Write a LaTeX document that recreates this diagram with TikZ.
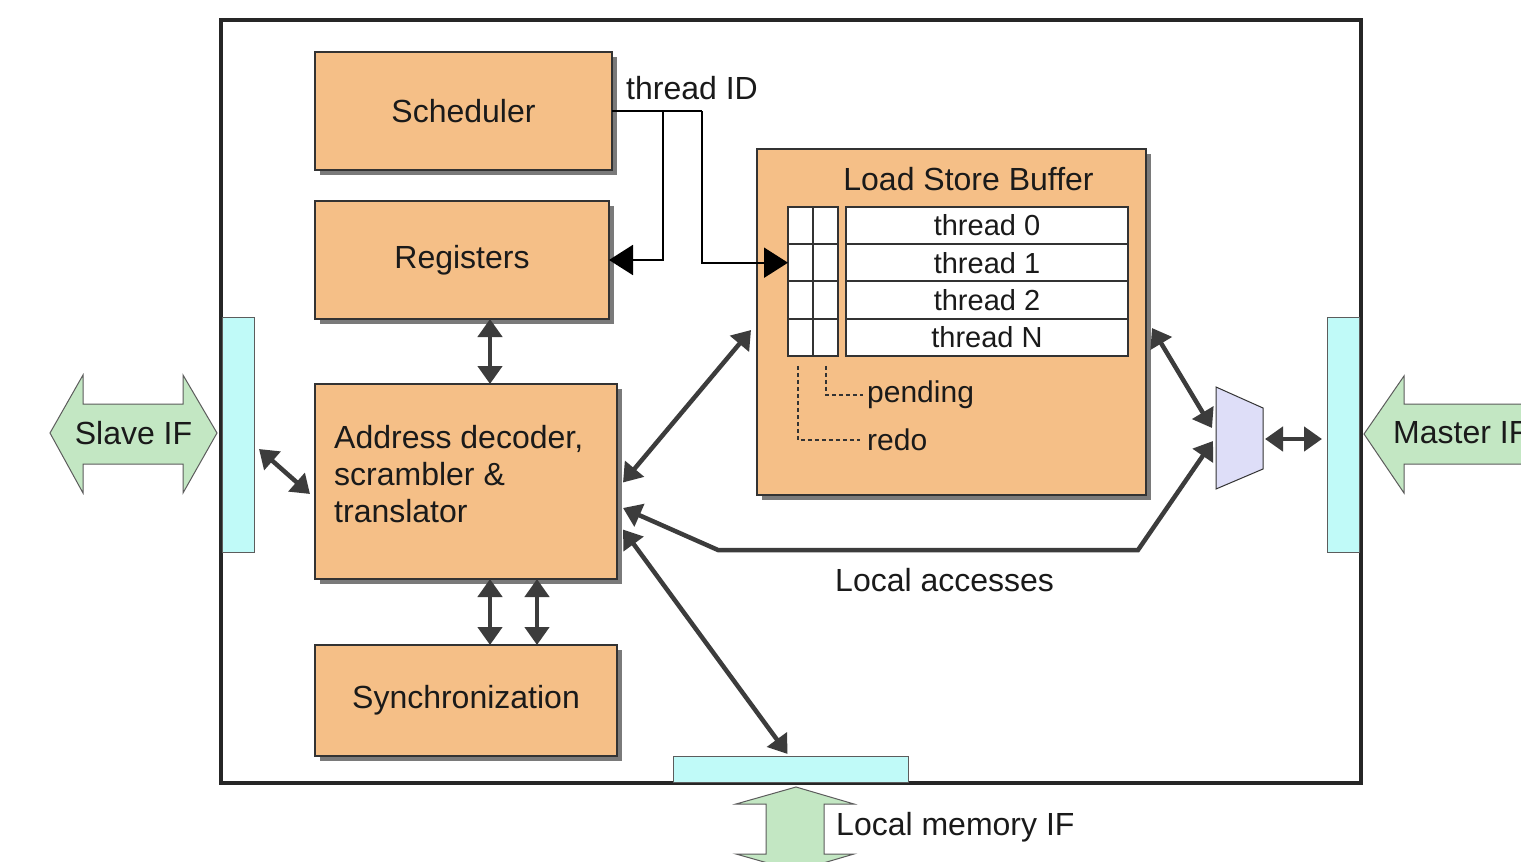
\documentclass[tikz,border=0pt]{standalone}
\usepackage{fontspec}
\setmainfont{Liberation Sans}
\usetikzlibrary{arrows.meta,calc,shadows}
\definecolor{boxfill}{HTML}{F5BF87}
\definecolor{cyanfill}{HTML}{C0FAF8}
\definecolor{greenfill}{HTML}{C3E7C3}
\definecolor{muxfill}{HTML}{DEDEF8}
\definecolor{arrowgray}{HTML}{3C3C3C}
\definecolor{shadowgray}{HTML}{7A7A7A}
\definecolor{edgec}{HTML}{333333}
\definecolor{txt}{HTML}{1A1A1A}
\begin{document}
\begin{tikzpicture}[x=1pt,y=-1pt,
  bigfont/.style={font=\fontsize{32}{37}\selectfont},
  blk/.style={draw=edgec, line width=1.2pt, fill=boxfill, inner sep=0pt, outer sep=0pt,
    drop shadow={shadow xshift=5pt, shadow yshift=-5pt, fill=shadowgray, opacity=1},
    bigfont, text=txt},
  lbl/.style={bigfont, inner sep=0pt, text=txt},
  smlbl/.style={font=\fontsize{30}{35}\selectfont, inner sep=0pt, text=txt},
  cell/.style={draw=edgec, line width=2pt, fill=white, minimum height=37.3, inner sep=0pt, outer sep=0pt,
    font=\fontsize{29}{34}\selectfont, text=txt},
  bar/.style={draw=edgec!80, line width=1pt, fill=cyanfill, inner sep=0pt, outer sep=0pt},
  bigarrow/.style={draw=edgec!80, line width=1pt, fill=greenfill},
  garrow/.style={draw=arrowgray, line width=4.5pt,
    {Triangle[width=24pt,length=18pt]}-{Triangle[width=24pt,length=18pt]}},
  tid/.style={draw=black, line width=2pt},
  tidtip/.style={-{Triangle[width=30pt,length=24pt]}},
  dots/.style={draw=edgec, line width=2.3pt, dash pattern=on 4pt off 3pt}
]
\useasboundingbox (0,0) rectangle (1521,862);
\fill[white] (0,0) rectangle (1521,862);

% outer frame
\draw[draw=black!85, line width=3.5pt] (221,20) rectangle (1361,783);

% interface bars
\node[bar, minimum width=32, minimum height=235] (sbar) at (238,434.5) {};
\node[bar, minimum width=32, minimum height=235] (mbar) at (1343,434.5) {};
\node[bar, minimum width=235, minimum height=26] (lbar) at (790.5,769) {};

% blocks
\node[blk, minimum width=297, minimum height=118] (sched) at (463.5,111) {Scheduler};
\node[blk, minimum width=294, minimum height=118] (reg) at (462,260) {Registers};
\node[blk, minimum width=302, minimum height=195] (addr) at (466,481.5) {};
\node[lbl, align=left, anchor=north west] (addrtxt) at ($(addr.north west)+(19,41)$)
  {Address decoder,\\scrambler \&\\translator};
\node[blk, minimum width=302, minimum height=111] (sync) at (466,700.5) {Synchronization};
\node[blk, minimum width=389, minimum height=346] (lsb) at (951.5,322) {};
\node[lbl, anchor=base] (lsbtxt) at (968.5,190) {Load Store Buffer};

% LSB table
\foreach \i/\yc/\t in {1/225.4/thread 0,2/262.7/thread 1,3/300/thread 2,4/337.3/thread N}{
  \node[cell, minimum width=25] (a\i) at (800.5,\yc) {};
  \node[cell, minimum width=25] (b\i) at (825.5,\yc) {};
  \node[cell, minimum width=282] (t\i) at (987,\yc) {\t};
}
\node[smlbl, anchor=west] (pend) at (867,395) {pending};
\node[smlbl, anchor=west] (redo) at (867,440) {redo};
\draw[dots, shorten >=4pt] ($(b4.south)+(0.5,10)$) |- (pend.west);
\draw[dots, shorten >=7pt] ($(a4.south)+(-2.5,10)$) |- (redo.west);

% mux
\node[minimum width=47, minimum height=102, inner sep=0pt, outer sep=0pt] (mux) at (1239.5,438) {};
\draw[draw=edgec, line width=1pt, fill=muxfill] (mux.north west) -- ($(mux.north east)+(0,21)$)
  -- ($(mux.south east)+(0,-20)$) -- (mux.south west) -- cycle;

% big interface arrows
\draw[bigarrow] (50,433) -- (83,375) -- (83,404) -- (183,404) -- (183,375) -- (217,433)
  -- (183,493) -- (183,464) -- (83,464) -- (83,493) -- cycle;
\node[lbl, anchor=base] (slave) at (133.5,444) {Slave IF};
\draw[bigarrow] (1364,434) -- (1404,376) -- (1404,404) -- (1540,404) -- (1540,464)
  -- (1404,464) -- (1404,493) -- cycle;
\node[lbl, anchor=base west] (master) at (1393,443) {Master IF};
\draw[bigarrow] (796,787) -- (854,804) -- (824,804) -- (824,854) -- (854,854) -- (796,871)
  -- (736,854) -- (766,854) -- (766,804) -- (736,804) -- cycle;
\node[lbl, anchor=base west] (lmem) at (836,835) {Local memory IF};

% thread ID wiring
\node[lbl, anchor=base west] (tidtxt) at (626,99) {thread ID};
\coordinate (j1) at (663,111);
\coordinate (j2) at (702,111);
\draw[tid] (sched.east) -- (j2);
\draw[tid, tidtip] (j1) |- (reg.east);
\draw[tid, tidtip] (j2) |- (a2.west);

% gray connectors
\draw[garrow] ([xshift=28pt]reg.south) -- ([xshift=24pt]addr.north);
\draw[garrow] ([xshift=24pt]addr.south) -- ([xshift=24pt]sync.north);
\draw[garrow] ([xshift=71pt]addr.south) -- ([xshift=71pt]sync.north);
\draw[garrow] ($(sbar.east)+(5,14.5)$) -- ($(addr.west)+(-5,12.5)$);
\draw[garrow] ($(addr.east)+(6,1)$) -- ($(lsb.west)+(-6,8)$);
\draw[garrow] ($(lsb.east)+(6,6)$) -- ($(mux.west)+(-4,-10)$);
\draw[garrow, line join=miter] ($(addr.east)+(6,26.5)$) -- (718,550) -- (1138,550) -- ($(mux.west)+(-3,3)$);
\draw[garrow] ($(addr.east)+(6,48)$) -- ($(lbar.north)+(-3,-2)$);
\draw[garrow] ($(mux.east)+(2,1)$) -- ($(mbar.west)+(-5,4.5)$);

\node[lbl, anchor=base west] (locacc) at (835,591) {Local accesses};
\end{tikzpicture}
\end{document}
